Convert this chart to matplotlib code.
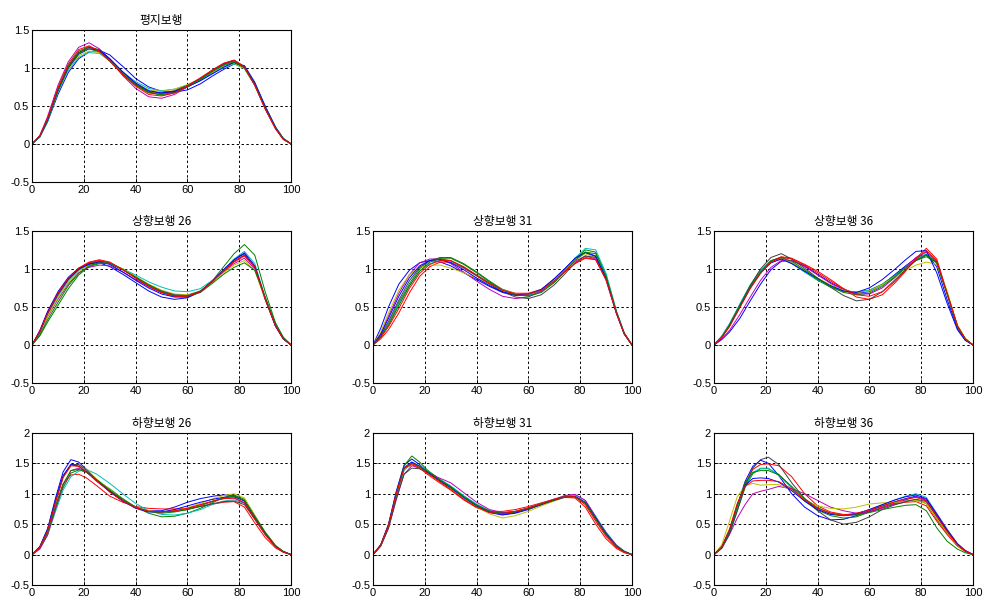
import matplotlib
matplotlib.use("Agg")
import matplotlib.pyplot as plt

plt.rcParams['font.family'] = ['Liberation Sans', 'Noto Sans CJK KR', 'DejaVu Sans']

# MATLAB-style line colour order
colors = [(0, 0, 1), (0, 0.5, 0), (1, 0, 0), (0, 0.75, 0.75),
          (0.75, 0, 0.75), (0.75, 0.75, 0), (0.25, 0.25, 0.25)]

# gait cycle (%) sample points
x_a = [0, 3, 6, 10, 14, 18, 22, 26, 30, 35, 40, 45, 50, 55, 60, 65, 70, 74, 78, 82, 86, 90, 94, 97, 100]
x_d = [0, 3, 6, 9, 12, 15, 18, 21, 25, 30, 35, 40, 45, 50, 55, 60, 65, 70, 74, 78, 82, 86, 90, 94, 97, 100]

# 평지보행
flat = [
    [0, .09, .29, .65, .94, 1.12, 1.21, 1.23, 1.17, 1.02, .86, .75, .69, .68, .71, .79, .90, .98, 1.05, 1.03, .81, .50, .22, .07, 0],
    [0, .10, .33, .72, 1.03, 1.22, 1.28, 1.22, 1.09, .91, .77, .67, .65, .68, .75, .84, .95, 1.03, 1.07, .99, .77, .47, .21, .07, 0],
    [0, .10, .32, .71, 1.02, 1.20, 1.27, 1.22, 1.10, .92, .78, .68, .66, .69, .76, .85, .96, 1.05, 1.09, 1.01, .78, .47, .20, .06, 0],
    [0, .09, .30, .68, .97, 1.14, 1.20, 1.19, 1.09, .94, .82, .73, .70, .72, .77, .84, .93, 1.00, 1.05, .99, .78, .49, .22, .07, 0],
    [0, .11, .36, .77, 1.08, 1.27, 1.33, 1.25, 1.11, .90, .73, .62, .60, .65, .75, .86, .98, 1.06, 1.10, 1.01, .77, .46, .20, .06, 0],
    [0, .10, .31, .69, .99, 1.16, 1.22, 1.20, 1.09, .93, .80, .71, .69, .72, .78, .86, .95, 1.02, 1.06, .99, .78, .48, .21, .07, 0],
    [0, .10, .32, .71, 1.01, 1.20, 1.27, 1.24, 1.12, .94, .79, .69, .67, .70, .77, .86, .97, 1.05, 1.10, 1.02, .79, .48, .21, .07, 0],
    [0, .10, .31, .70, 1.00, 1.18, 1.25, 1.23, 1.12, .95, .80, .70, .67, .69, .75, .83, .93, 1.01, 1.07, 1.01, .79, .49, .22, .07, 0],
    [0, .10, .32, .70, 1.01, 1.19, 1.25, 1.21, 1.09, .92, .78, .68, .64, .67, .75, .85, .96, 1.04, 1.08, 1.00, .78, .47, .21, .07, 0],
    [0, .11, .34, .74, 1.05, 1.24, 1.29, 1.22, 1.09, .91, .76, .65, .63, .67, .76, .87, .98, 1.06, 1.10, 1.01, .77, .46, .20, .06, 0],
]

# 상향보행 26
up26 = [
    [0, .19, .44, .70, .89, 1.01, 1.07, 1.08, 1.03, .93, .82, .71, .63, .60, .62, .70, .85, .99, 1.12, 1.20, 1.02, .60, .25, .08, 0],
    [0, .12, .30, .52, .74, .92, 1.03, 1.07, 1.07, 1.00, .90, .79, .70, .64, .63, .70, .86, 1.03, 1.20, 1.32, 1.18, .70, .29, .10, 0],
    [0, .17, .41, .66, .86, 1.00, 1.08, 1.11, 1.08, .99, .88, .77, .69, .65, .64, .70, .84, .97, 1.09, 1.17, 1.02, .61, .25, .09, 0],
    [0, .16, .40, .64, .84, .98, 1.05, 1.08, 1.07, 1.00, .92, .83, .76, .71, .70, .74, .86, .99, 1.13, 1.23, 1.07, .63, .26, .09, 0],
    [0, .15, .37, .60, .80, .95, 1.02, 1.05, 1.04, .96, .86, .77, .69, .64, .64, .70, .84, .96, 1.07, 1.14, 1.00, .60, .25, .08, 0],
    [0, .15, .38, .62, .82, .97, 1.05, 1.09, 1.08, 1.00, .90, .80, .72, .67, .66, .71, .84, .95, 1.05, 1.11, .98, .60, .25, .08, 0],
    [0, .17, .41, .66, .86, .99, 1.07, 1.10, 1.08, .99, .89, .79, .71, .66, .65, .71, .85, .98, 1.10, 1.18, 1.03, .62, .25, .09, 0],
    [0, .18, .43, .68, .87, 1.00, 1.06, 1.09, 1.06, .96, .85, .75, .67, .63, .63, .70, .85, .99, 1.12, 1.21, 1.04, .61, .25, .08, 0],
    [0, .13, .33, .56, .78, .94, 1.04, 1.08, 1.07, .99, .89, .79, .70, .65, .64, .69, .82, .93, 1.02, 1.08, .98, .63, .28, .10, 0],
    [0, .18, .42, .68, .88, 1.01, 1.09, 1.12, 1.09, .99, .88, .77, .69, .64, .64, .70, .85, .98, 1.10, 1.18, 1.03, .61, .25, .08, 0],
]

# 상향보행 31
up31 = [
    [0, .22, .50, .80, .98, 1.08, 1.11, 1.09, 1.04, .95, .86, .77, .69, .65, .66, .73, .87, 1.00, 1.13, 1.21, 1.16, .87, .42, .15, 0],
    [0, .11, .28, .56, .80, 1.00, 1.11, 1.15, 1.15, 1.07, .96, .84, .73, .66, .65, .70, .83, .97, 1.13, 1.25, 1.22, .92, .44, .16, 0],
    [0, .08, .20, .42, .68, .90, 1.03, 1.09, 1.09, 1.01, .91, .81, .73, .68, .68, .73, .85, .96, 1.07, 1.14, 1.12, .86, .42, .15, 0],
    [0, .11, .27, .54, .78, .97, 1.07, 1.11, 1.10, 1.02, .92, .82, .73, .67, .66, .71, .84, .98, 1.14, 1.27, 1.25, .94, .45, .16, 0],
    [0, .15, .38, .68, .92, 1.08, 1.13, 1.13, 1.07, .96, .84, .73, .64, .61, .63, .71, .86, .98, 1.10, 1.17, 1.13, .85, .41, .14, 0],
    [0, .17, .42, .72, .92, 1.02, 1.05, 1.05, 1.01, .95, .88, .80, .72, .67, .67, .73, .86, .99, 1.12, 1.20, 1.15, .87, .42, .15, 0],
    [0, .12, .31, .59, .84, 1.02, 1.11, 1.13, 1.11, 1.02, .91, .80, .70, .63, .61, .66, .79, .93, 1.08, 1.17, 1.15, .88, .43, .15, 0],
    [0, .14, .35, .64, .88, 1.04, 1.11, 1.12, 1.08, .99, .88, .78, .70, .66, .67, .73, .87, 1.00, 1.14, 1.22, 1.17, .88, .42, .15, 0],
    [0, .10, .26, .52, .77, .97, 1.09, 1.14, 1.14, 1.06, .95, .83, .72, .66, .64, .69, .82, .96, 1.11, 1.22, 1.20, .90, .43, .15, 0],
    [0, .10, .24, .48, .74, .94, 1.06, 1.11, 1.11, 1.03, .92, .81, .72, .67, .67, .72, .84, .96, 1.07, 1.15, 1.12, .86, .42, .15, 0],
]

# 상향보행 36
up36 = [
    [0, .07, .17, .35, .58, .80, .99, 1.10, 1.11, 1.04, .93, .82, .73, .68, .70, .79, .93, 1.04, 1.14, 1.19, 1.03, .60, .22, .07, 0],
    [0, .11, .27, .53, .78, .98, 1.11, 1.15, 1.08, .96, .85, .76, .70, .69, .72, .80, .92, 1.02, 1.11, 1.16, 1.08, .68, .25, .08, 0],
    [0, .10, .26, .51, .76, .96, 1.10, 1.16, 1.14, 1.06, .97, .86, .74, .63, .60, .66, .82, .97, 1.14, 1.27, 1.13, .69, .25, .08, 0],
    [0, .12, .28, .54, .79, .98, 1.10, 1.13, 1.07, .96, .86, .77, .71, .70, .72, .79, .91, 1.02, 1.13, 1.20, 1.09, .68, .25, .08, 0],
    [0, .08, .19, .40, .63, .85, 1.02, 1.11, 1.11, 1.03, .92, .81, .72, .67, .67, .75, .89, 1.03, 1.15, 1.22, 1.10, .68, .25, .08, 0],
    [0, .11, .26, .51, .76, .96, 1.08, 1.13, 1.08, .98, .88, .79, .72, .69, .71, .79, .90, .98, 1.05, 1.09, 1.06, .71, .26, .09, 0],
    [0, .10, .26, .52, .78, 1.00, 1.15, 1.20, 1.13, 1.01, .88, .76, .65, .58, .60, .70, .86, .99, 1.11, 1.18, 1.09, .68, .25, .08, 0],
    [0, .10, .25, .50, .75, .95, 1.08, 1.13, 1.07, .97, .87, .78, .71, .69, .75, .86, 1.00, 1.12, 1.23, 1.24, .95, .55, .20, .06, 0],
    [0, .10, .26, .51, .76, .96, 1.10, 1.15, 1.10, .99, .87, .77, .69, .66, .68, .77, .90, 1.01, 1.12, 1.18, 1.08, .67, .24, .08, 0],
    [0, .10, .24, .49, .74, .94, 1.09, 1.15, 1.13, 1.05, .95, .84, .74, .66, .64, .70, .84, .98, 1.13, 1.24, 1.11, .68, .25, .08, 0],
]

# 하향보행 26
down26 = [
    [0, .13, .42, .92, 1.36, 1.56, 1.52, 1.40, 1.22, 1.03, .88, .77, .72, .72, .78, .86, .92, .96, .98, .97, .88, .62, .35, .14, .05, 0],
    [0, .11, .34, .74, 1.10, 1.34, 1.39, 1.36, 1.22, 1.08, .92, .78, .68, .62, .63, .68, .76, .86, .94, .98, .91, .64, .37, .15, .05, 0],
    [0, .12, .38, .80, 1.16, 1.31, 1.32, 1.26, 1.13, .96, .86, .79, .76, .75, .75, .76, .79, .83, .86, .87, .78, .52, .28, .11, .04, 0],
    [0, .10, .32, .70, 1.06, 1.28, 1.37, 1.40, 1.32, 1.17, 1.00, .84, .72, .66, .65, .68, .74, .83, .88, .90, .84, .60, .35, .14, .05, 0],
    [0, .09, .32, .74, 1.14, 1.38, 1.42, 1.36, 1.20, 1.05, .90, .78, .72, .70, .72, .76, .82, .88, .92, .93, .85, .59, .34, .14, .05, 0],
    [0, .12, .38, .84, 1.26, 1.46, 1.47, 1.40, 1.24, 1.07, .91, .78, .72, .70, .72, .77, .84, .92, .97, 1.00, .93, .65, .37, .15, .05, 0],
    [0, .12, .40, .86, 1.28, 1.48, 1.48, 1.39, 1.22, 1.04, .89, .77, .71, .70, .71, .74, .79, .84, .87, .88, .82, .58, .33, .13, .04, 0],
    [0, .13, .42, .88, 1.30, 1.48, 1.45, 1.36, 1.22, 1.04, .88, .76, .70, .70, .74, .80, .86, .91, .94, .95, .88, .62, .36, .14, .05, 0],
    [0, .11, .36, .78, 1.16, 1.38, 1.40, 1.35, 1.23, 1.06, .91, .78, .71, .68, .70, .74, .80, .88, .93, .96, .89, .62, .36, .14, .05, 0],
    [0, .12, .40, .86, 1.27, 1.46, 1.45, 1.36, 1.21, 1.03, .88, .77, .71, .70, .72, .76, .82, .88, .92, .93, .85, .58, .33, .13, .04, 0],
]

# 하향보행 31
down31 = [
    [0, .16, .50, 1.04, 1.47, 1.57, 1.48, 1.36, 1.24, 1.08, .92, .78, .69, .65, .68, .74, .82, .90, .95, .95, .84, .57, .32, .13, .04, 0],
    [0, .15, .47, 1.00, 1.46, 1.62, 1.52, 1.39, 1.26, 1.12, .96, .82, .72, .69, .71, .76, .83, .90, .95, .95, .84, .58, .33, .14, .05, 0],
    [0, .16, .48, 1.00, 1.40, 1.48, 1.42, 1.32, 1.20, 1.06, .90, .77, .71, .71, .74, .79, .85, .91, .94, .93, .78, .50, .26, .10, .03, 0],
    [0, .14, .45, .95, 1.38, 1.52, 1.46, 1.38, 1.26, 1.13, .97, .83, .72, .68, .71, .77, .84, .91, .96, .98, .89, .63, .37, .16, .06, 0],
    [0, .14, .43, .90, 1.32, 1.46, 1.42, 1.36, 1.27, 1.18, 1.02, .86, .74, .69, .71, .76, .83, .91, .97, .99, .89, .62, .36, .15, .05, 0],
    [0, .15, .47, .98, 1.40, 1.50, 1.43, 1.34, 1.22, 1.08, .92, .78, .67, .60, .64, .71, .80, .88, .94, .95, .83, .57, .32, .13, .04, 0],
    [0, .14, .44, .92, 1.32, 1.42, 1.41, 1.35, 1.24, 1.11, .95, .81, .71, .68, .70, .75, .82, .89, .94, .95, .85, .59, .34, .14, .05, 0],
    [0, .16, .49, 1.01, 1.43, 1.52, 1.45, 1.36, 1.24, 1.10, .94, .80, .70, .66, .69, .76, .83, .90, .95, .96, .86, .60, .34, .14, .05, 0],
    [0, .15, .48, .99, 1.41, 1.50, 1.45, 1.37, 1.25, 1.11, .95, .81, .71, .67, .70, .76, .83, .90, .95, .95, .85, .59, .33, .14, .05, 0],
    [0, .15, .48, 1.00, 1.42, 1.50, 1.43, 1.34, 1.22, 1.07, .91, .78, .69, .67, .71, .77, .84, .91, .95, .95, .82, .55, .30, .12, .04, 0],
]

# 하향보행 36
down36 = [
    [0, .12, .38, .80, 1.20, 1.45, 1.55, 1.50, 1.30, 1.00, .78, .64, .57, .58, .64, .72, .80, .87, .92, .96, .89, .62, .38, .16, .06, 0],
    [0, .11, .34, .72, 1.10, 1.33, 1.41, 1.41, 1.32, 1.10, .88, .73, .64, .60, .62, .70, .78, .85, .88, .90, .84, .58, .35, .15, .05, 0],
    [0, .12, .37, .78, 1.16, 1.40, 1.48, 1.49, 1.46, 1.28, 1.00, .80, .70, .66, .66, .70, .77, .83, .86, .87, .80, .55, .33, .14, .05, 0],
    [0, .11, .35, .75, 1.12, 1.35, 1.42, 1.42, 1.30, 1.10, .90, .76, .67, .64, .67, .74, .82, .90, .96, 1.00, .94, .68, .42, .18, .07, 0],
    [0, .10, .33, .60, .82, 1.00, 1.04, 1.07, 1.12, 1.08, 1.00, .89, .78, .72, .68, .70, .76, .84, .90, .95, .91, .67, .41, .18, .07, 0],
    [0, .16, .55, .95, 1.13, 1.17, 1.14, 1.15, 1.15, 1.06, .90, .80, .76, .75, .78, .83, .85, .86, .87, .89, .84, .60, .36, .15, .05, 0],
    [0, .11, .34, .72, 1.12, 1.42, 1.56, 1.60, 1.48, 1.18, .92, .72, .57, .50, .53, .62, .74, .82, .87, .91, .87, .64, .40, .17, .06, 0],
    [0, .12, .40, .82, 1.14, 1.25, 1.26, 1.25, 1.19, 1.05, .88, .74, .66, .64, .67, .74, .82, .90, .95, .98, .92, .66, .40, .17, .06, 0],
    [0, .12, .38, .80, 1.18, 1.35, 1.38, 1.38, 1.31, 1.12, .92, .77, .68, .64, .65, .69, .74, .78, .81, .82, .72, .44, .22, .09, .03, 0],
    [0, .13, .42, .84, 1.12, 1.21, 1.22, 1.22, 1.20, 1.08, .90, .76, .68, .65, .68, .73, .80, .87, .91, .94, .88, .63, .38, .16, .06, 0],
]

titles = ['평지보행', '상향보행 26', '상향보행 31', '상향보행 36',
          '하향보행 26', '하향보행 31', '하향보행 36']
x_ticks = [0, 20, 40, 60, 80, 100]
y_ticks_up = [-0.5, 0, 0.5, 1, 1.5]
y_labels_up = ['-0.5', '0', '0.5', '1', '1.5']
y_ticks_down = [-0.5, 0, 0.5, 1, 1.5, 2]
y_labels_down = ['-0.5', '0', '0.5', '1', '1.5', '2']

# axes boxes in figure fractions
lefts = [0.0326, 0.3794, 0.7263]
bottoms = [0.7002, 0.3690, 0.0362]
w, h = 0.2635, 0.2507

panels = [
    (0, 0, flat, x_a, 1.5),
    (1, 0, up26, x_a, 1.5),
    (1, 1, up31, x_a, 1.5),
    (1, 2, up36, x_a, 1.5),
    (2, 0, down26, x_d, 2),
    (2, 1, down31, x_d, 2),
    (2, 2, down36, x_d, 2),
]

fig = plt.figure(figsize=(9.83, 6.07), dpi=100)

for i, (row, col, curves, xs, ytop) in enumerate(panels):
    ax = fig.add_axes([lefts[col], bottoms[row], w, h])
    for j, ys in enumerate(curves):
        ax.plot(xs, ys, color=colors[j % len(colors)], linewidth=0.7)
    ax.set_xlim(0, 100)
    ax.set_ylim(-0.5, ytop)
    ax.set_xticks(x_ticks)
    ax.set_xticklabels([str(t) for t in x_ticks])
    if ytop == 2:
        ax.set_yticks(y_ticks_down)
        ax.set_yticklabels(y_labels_down)
    else:
        ax.set_yticks(y_ticks_up)
        ax.set_yticklabels(y_labels_up)
    ax.grid(True, color='black', linestyle=(0, (2.5, 2.5)), linewidth=0.7)
    ax.set_axisbelow(True)
    ax.tick_params(direction='in', length=3, width=0.6, labelsize=8, pad=2)
    for s in ax.spines.values():
        s.set_linewidth(0.8)
    ax.set_title(titles[i], fontsize=8.5, pad=4,
                 family=['Noto Sans CJK KR', 'DejaVu Sans'])

fig.savefig('out.png', dpi=100)
